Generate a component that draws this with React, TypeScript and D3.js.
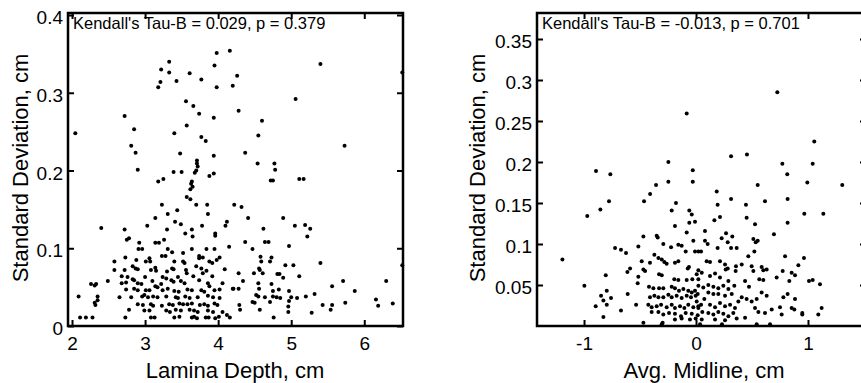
import React, { useEffect, useRef } from 'react';
import * as d3 from 'd3';

// [lamina depth (cm), standard deviation (cm)]
const depthPoints = [
  [2.045,0.248],[3.98,0.351],[4.16,0.354],[3.33,0.340],[3.22,0.330],[3.33,0.326],[3.61,0.325],[3.95,0.335],[3.21,0.314],[3.18,0.307],
  [3.43,0.315],[3.77,0.317],[3.98,0.307],[4.20,0.309],[3.56,0.289],[3.66,0.283],[3.74,0.273],[3.94,0.268],[2.72,0.270],[2.85,0.253],
  [3.57,0.258],[3.40,0.248],[3.77,0.243],[3.83,0.238],[2.81,0.232],[2.87,0.223],[3.48,0.222],[3.94,0.219],[3.71,0.213],[3.71,0.209],
  [3.72,0.205],[2.90,0.201],[3.39,0.198],[3.50,0.198],[3.68,0.197],[3.70,0.200],[3.88,0.193],[3.94,0.196],[3.18,0.186],[3.25,0.189],
  [3.64,0.186],[5.40,0.337],[4.26,0.322],[5.06,0.292],[4.28,0.277],[4.60,0.264],[4.55,0.245],[5.73,0.232],[4.37,0.223],[4.54,0.209],
  [4.77,0.209],[4.78,0.201],[4.72,0.187],[4.75,0.187],[5.11,0.189],[5.17,0.189],[6.52,0.326],[6.52,0.078],
  [3.63,0.183],[3.65,0.179],[3.62,0.176],[3.57,0.166],[3.62,0.163],[3.23,0.156],[3.70,0.156],[3.85,0.156],[3.86,0.144],[4.22,0.156],
  [3.44,0.149],[3.31,0.144],[3.14,0.139],[3.41,0.134],[3.49,0.131],[3.03,0.129],[2.40,0.126],[2.72,0.124],[3.30,0.124],[3.64,0.124],
  [3.78,0.129],[4.12,0.134],[4.10,0.129],[3.55,0.119],[3.65,0.115],[3.96,0.119],[3.96,0.116],[2.75,0.111],[2.78,0.113],[2.92,0.107],
  [3.14,0.107],[3.19,0.107],[3.26,0.111],[4.15,0.102],[2.91,0.099],[2.96,0.099],[3.31,0.099],[3.37,0.095],[3.64,0.099],[3.84,0.099],
  [3.95,0.099],[3.52,0.094],[3.74,0.090],[3.79,0.088],[3.74,0.087],[2.73,0.088],[3.23,0.090],[3.28,0.090],[3.06,0.087],[4.02,0.088],
  [3.98,0.085],[2.58,0.083],[2.88,0.085],[3.01,0.083],[3.07,0.083],[3.40,0.083],[3.52,0.083],[3.54,0.081],[3.88,0.083],[3.92,0.081],
  [2.83,0.077],[3.14,0.075],[3.37,0.074],[3.39,0.073],[3.70,0.077],[3.77,0.074],[2.58,0.072],[2.72,0.072],[2.87,0.074],[2.90,0.073],
  [3.08,0.072],[3.15,0.071],[3.30,0.070],[3.56,0.072],[3.57,0.068],[3.84,0.071],[3.79,0.068],[4.09,0.073],[2.68,0.064],[2.76,0.063],
  [3.00,0.063],[3.24,0.063],[3.29,0.061],[3.45,0.063],[3.66,0.064],[3.92,0.064],[2.83,0.060],[2.85,0.059],[3.10,0.058],[3.36,0.059],
  [3.39,0.057],[3.49,0.058],[3.74,0.059],[2.49,0.058],[2.26,0.054],[2.33,0.054],[2.31,0.052],[2.68,0.055],[2.74,0.056],[2.90,0.055],
  [2.95,0.054],[3.14,0.051],[3.17,0.050],[3.22,0.054],[3.54,0.055],[3.86,0.055],[3.88,0.051],[4.06,0.055],[4.20,0.048],[2.74,0.047],
  [2.85,0.048],[2.90,0.046],[3.01,0.046],[3.06,0.046],[3.24,0.046],[3.31,0.048],[3.40,0.045],[3.46,0.044],[3.58,0.047],[3.64,0.046],
  [3.77,0.046],[3.81,0.044],[3.95,0.046],[4.02,0.047],[2.09,0.038],[2.35,0.038],[2.35,0.033],[2.31,0.030],[2.32,0.027],[2.65,0.037],
  [2.81,0.037],[2.96,0.038],[2.99,0.040],[3.04,0.037],[3.11,0.038],[3.17,0.037],[3.29,0.038],[3.42,0.037],[3.45,0.036],[3.55,0.038],
  [3.61,0.036],[3.72,0.037],[3.86,0.039],[3.93,0.037],[4.02,0.036],[2.78,0.021],[2.90,0.028],[2.97,0.027],[3.08,0.028],[3.11,0.026],
  [3.23,0.026],[3.33,0.028],[3.38,0.027],[3.47,0.029],[3.52,0.028],[3.58,0.028],[3.64,0.029],[3.75,0.027],[3.81,0.028],[3.86,0.026],
  [3.95,0.029],[3.99,0.027],[2.99,0.020],[3.06,0.020],[3.29,0.020],[3.34,0.018],[3.42,0.021],[3.49,0.020],[3.61,0.021],[3.67,0.020],
  [3.72,0.018],[3.86,0.020],[3.93,0.018],[4.06,0.018],[2.11,0.011],[2.19,0.011],[2.28,0.011],[2.73,0.011],[3.08,0.011],[3.13,0.011],
  [3.40,0.011],[3.47,0.012],[3.64,0.011],[3.67,0.012],[3.71,0.010],[3.83,0.011],[3.87,0.011],[3.96,0.010],[4.01,0.012],[4.12,0.014],
  [4.16,0.011],
  [4.32,0.153],[4.41,0.139],[4.89,0.139],[4.62,0.125],[5.05,0.129],[5.19,0.130],[5.26,0.125],[5.22,0.115],[4.37,0.108],[4.64,0.108],
  [4.69,0.108],[4.97,0.103],[4.47,0.099],[4.58,0.089],[4.59,0.083],[4.73,0.088],[4.71,0.083],[4.92,0.078],[5.03,0.078],[5.40,0.081],
  [4.56,0.074],[4.57,0.072],[4.61,0.068],[4.28,0.068],[4.49,0.068],[4.81,0.067],[4.84,0.067],[4.89,0.062],[5.11,0.064],[4.34,0.058],
  [4.55,0.055],[4.56,0.048],[4.73,0.054],[4.75,0.045],[4.83,0.047],[4.97,0.045],[4.21,0.048],[4.28,0.048],[5.71,0.058],[5.56,0.051],
  [5.87,0.045],[6.30,0.058],[4.52,0.040],[4.55,0.038],[4.64,0.037],[4.75,0.038],[4.80,0.037],[4.85,0.036],[5.00,0.037],[5.08,0.036],
  [5.20,0.038],[5.32,0.041],[4.47,0.031],[4.50,0.030],[4.71,0.031],[4.97,0.032],[5.74,0.030],[6.16,0.034],[6.19,0.026],[6.39,0.029],
  [4.29,0.027],[4.30,0.021],[4.57,0.021],[4.96,0.025],[4.96,0.018],[5.43,0.027],[5.56,0.027],[5.54,0.021],[5.28,0.017],[4.76,0.011]
];

// [avg. midline (cm), standard deviation (cm)]
const midlinePoints = [
  [-0.083,0.259],[0.726,0.285],[1.056,0.225],[0.313,0.207],[0.455,0.209],[-0.247,0.200],[0.771,0.198],[1.042,0.198],[-0.893,0.189],[-0.765,0.185],
  [-0.029,0.190],[0.815,0.185],[-0.247,0.176],[-0.029,0.176],[0.994,0.175],[-0.357,0.172],[0.551,0.172],[1.306,0.172],[0.185,0.164],[-0.41,0.161],
  [-0.464,0.152],[-0.179,0.150],[-0.777,0.152],[-0.854,0.142],[-0.971,0.134],[-0.217,0.141],[-0.060,0.141],[-0.038,0.136],[-0.060,0.126],[-0.009,0.127],
  [-0.188,0.122],[-0.083,0.114],[-0.470,0.109],[-0.351,0.110],[-0.342,0.108],[-0.024,0.104],[-0.292,0.100],[-0.158,0.099],[-0.128,0.098],[-0.723,0.095],
  [-0.670,0.093],[-0.625,0.089],[-0.515,0.097],[-0.223,0.096],[-0.092,0.091],[-0.009,0.091],[-0.372,0.087],[-0.336,0.083],[-0.306,0.081],[-1.193,0.081],
  [-0.485,0.079],[-0.411,0.077],[-0.283,0.078],[-0.262,0.076],[-0.188,0.077],[-0.158,0.079],[-0.074,0.070],[-0.063,0.072],[0.021,0.068],[-0.589,0.070],
  [-0.613,0.066],[-0.470,0.069],[-0.455,0.067],[-0.330,0.063],[-0.306,0.062],[-0.806,0.062],[-0.515,0.060],[-0.194,0.057],[-0.158,0.056],[-0.083,0.056],
  [-0.033,0.057],[0.021,0.057],[-0.521,0.052],[-0.997,0.049],[-0.420,0.048],[-0.381,0.046],[-0.330,0.046],[-0.292,0.046],[-0.217,0.048],[-0.188,0.046],
  [-0.152,0.043],[-0.113,0.045],[-0.069,0.043],[-0.038,0.041],[-0.009,0.043],[0.015,0.039],[-0.797,0.043],[-0.610,0.039],[-0.848,0.037],[-0.827,0.031],
  [-0.759,0.034],[-0.797,0.026],[-0.896,0.024],[-0.670,0.019],[-0.827,0.011],[-0.535,0.026],[-0.411,0.035],[-0.372,0.037],[-0.336,0.035],[-0.292,0.035],
  [-0.247,0.038],[-0.217,0.035],[-0.173,0.037],[-0.128,0.034],[-0.083,0.037],[-0.045,0.035],[-0.003,0.037],[-0.426,0.026],[-0.396,0.023],[-0.351,0.024],
  [-0.312,0.026],[-0.262,0.023],[-0.217,0.026],[-0.188,0.022],[-0.143,0.024],[-0.104,0.022],[-0.069,0.026],[-0.024,0.023],[0.021,0.024],[-0.396,0.017],
  [-0.336,0.017],[-0.292,0.014],[-0.241,0.016],[-0.188,0.015],[-0.134,0.012],[-0.092,0.016],[-0.038,0.015],[0.015,0.013],[-0.188,0.008],[-0.128,0.009],
  [-0.054,0.008],[-0.003,0.009],[-0.470,0.004],[-0.298,0.004],[0.036,0.002],
  [0.313,0.155],[0.616,0.152],[0.818,0.155],[0.446,0.148],[0.193,0.148],[0.967,0.137],[1.137,0.137],[0.214,0.133],[0.164,0.129],[0.452,0.132],
  [0.527,0.124],[0.818,0.126],[0.268,0.113],[0.229,0.107],[0.283,0.102],[0.324,0.109],[0.696,0.112],[0.512,0.106],[0.551,0.104],[0.533,0.102],
  [0.080,0.116],[0.080,0.104],[0.104,0.100],[0.021,0.091],[0.045,0.091],[0.193,0.095],[0.313,0.095],[0.363,0.095],[0.521,0.091],[0.467,0.085],
  [0.795,0.085],[0.964,0.083],[0.095,0.079],[0.125,0.078],[0.214,0.079],[0.259,0.075],[0.283,0.070],[0.265,0.069],[0.408,0.075],[0.357,0.073],
  [0.354,0.067],[0.497,0.073],[0.512,0.067],[0.586,0.072],[0.631,0.069],[0.601,0.068],[0.914,0.074],[0.774,0.067],[0.720,0.059],[0.854,0.065],
  [0.884,0.062],[0.565,0.057],[0.601,0.056],[0.833,0.055],[1.042,0.056],[1.107,0.051],[1.009,0.055],[0.006,0.063],[0.051,0.065],[0.125,0.061],
  [0.170,0.064],[0.214,0.059],[0.438,0.055],[0.473,0.048],[0.342,0.049],[0.289,0.055],[0.021,0.049],[0.065,0.047],[0.110,0.050],[0.155,0.048],
  [0.199,0.046],[0.244,0.049],[0.289,0.045],[0.110,0.041],[0.155,0.039],[0.199,0.039],[0.259,0.037],[0.319,0.039],[0.586,0.041],[0.631,0.037],
  [0.780,0.035],[0.818,0.039],[0.884,0.033],[0.408,0.035],[0.452,0.033],[0.497,0.030],[0.542,0.033],[0.378,0.030],[1.122,0.022],[1.092,0.014],
  [0.949,0.016],[0.949,0.014],[0.854,0.022],[0.878,0.020],[0.750,0.023],[0.765,0.014],[0.676,0.020],[0.616,0.016],[0.527,0.022],[0.557,0.017],
  [0.438,0.010],[0.006,0.030],[0.045,0.026],[0.074,0.033],[0.021,0.022],[0.056,0.017],[0.125,0.026],[0.170,0.023],[0.214,0.028],[0.259,0.024],
  [0.304,0.026],[0.348,0.022],[0.110,0.016],[0.155,0.014],[0.199,0.017],[0.244,0.015],[0.289,0.012],[0.333,0.016],[0.051,0.008],[0.170,0.008],
  [0.259,0.007],[0.363,0.009],[-0.306,0.002],[0.232,0.002],[0.542,0.002],[0.661,0.002]
];

const depthTicks = [2, 3, 4, 5, 6];
const depthSdTicks = [0, 0.1, 0.2, 0.3, 0.4];
const midlineTicks = [-1, 0, 1];
const midlineSdTicks = [0.05, 0.1, 0.15, 0.2, 0.25, 0.3, 0.35];

const depthStat = "Kendall's Tau-B = 0.029, p = 0.379";
const midlineStat = "Kendall's Tau-B = -0.013, p = 0.701";

const width = 861;
const height = 383;
const font = "'Liberation Sans', Arial, sans-serif";
const top = 13;
const bottom = 326;

const drawPanel = (svg, o) => {
    const x = d3.scaleLinear().domain(o.xDomain).range([o.left, o.right]);
    const y = d3.scaleLinear().domain(o.yDomain).range([bottom, top]);
    const g = svg.append('g');

    g.append('g')
        .selectAll('circle')
        .data(o.points)
        .enter()
        .append('circle')
        .attr('cx', (d) => x(d[0]))
        .attr('cy', (d) => y(d[1]))
        .attr('r', 2)
        .attr('fill', '#000');

    const styleAxis = (a, showLabels) => {
        a.select('.domain').remove();
        a.selectAll('.tick line').attr('stroke', '#000').attr('stroke-width', 2);
        a.selectAll('.tick text')
            .attr('fill', '#000')
            .style('font-family', font)
            .style('font-size', '19px');
        if (!showLabels) a.selectAll('.tick text').remove();
    };

    const fmt = (d) => String(d);

    g.append('g')
        .attr('transform', `translate(0,${bottom})`)
        .call(d3.axisBottom(x).tickValues(o.xTicks).tickSizeInner(-6).tickSizeOuter(0).tickPadding(11).tickFormat(fmt))
        .call((a) => styleAxis(a, true));
    g.append('g')
        .attr('transform', `translate(0,${top})`)
        .call(d3.axisTop(x).tickValues(o.xTicks).tickSizeInner(-6).tickSizeOuter(0))
        .call((a) => styleAxis(a, false));
    g.append('g')
        .attr('transform', `translate(${o.left},0)`)
        .call(d3.axisLeft(y).tickValues(o.yTicks).tickSizeInner(-6).tickSizeOuter(0).tickPadding(5).tickFormat(fmt))
        .call((a) => styleAxis(a, true))
        .selectAll('.tick text')
        .attr('dy', '0.45em');
    g.append('g')
        .attr('transform', `translate(${o.right},0)`)
        .call(d3.axisRight(y).tickValues(o.yTicks).tickSizeInner(-6).tickSizeOuter(0))
        .call((a) => styleAxis(a, false));

    g.append('rect')
        .attr('x', o.left)
        .attr('y', top)
        .attr('width', o.right - o.left)
        .attr('height', bottom - top)
        .attr('fill', 'none')
        .attr('stroke', '#000')
        .attr('stroke-width', 2.5);

    g.append('text')
        .attr('x', o.left + 5)
        .attr('y', 29)
        .style('font-family', font)
        .style('font-size', '16.5px')
        .text(o.stat);

    g.append('text')
        .attr('x', o.titleX)
        .attr('y', 378)
        .attr('text-anchor', 'middle')
        .style('font-family', font)
        .style('font-size', '22px')
        .text(o.xLabel);

    g.append('text')
        .attr('transform', `translate(${o.yTitleX},168) rotate(-90)`)
        .attr('text-anchor', 'middle')
        .style('font-family', font)
        .style('font-size', '22px')
        .text('Standard Deviation, cm');
};

export default function App() {
    const ref = useRef(null);

    useEffect(() => {
        const svg = d3.select(ref.current);
        svg.selectAll('*').remove();

        drawPanel(svg, {
            points: depthPoints,
            xDomain: [1.945, 6.53],
            yDomain: [0, 0.4026],
            left: 68,
            right: 403,
            xTicks: depthTicks,
            yTicks: depthSdTicks,
            stat: depthStat,
            xLabel: 'Lamina Depth, cm',
            titleX: 235,
            yTitleX: 28
        });

        drawPanel(svg, {
            points: midlinePoints,
            xDomain: [-1.42, 1.518],
            yDomain: [0, 0.3817],
            left: 537,
            right: 866,
            xTicks: midlineTicks,
            yTicks: midlineSdTicks,
            stat: midlineStat,
            xLabel: 'Avg. Midline, cm',
            titleX: 704,
            yTitleX: 485
        });
    }, []);

    return (
        <svg
            ref={ref}
            width={width}
            height={height}
            style={{ position: 'absolute', left: 0, top: 0, background: '#fff' }}
        />
    );
}
